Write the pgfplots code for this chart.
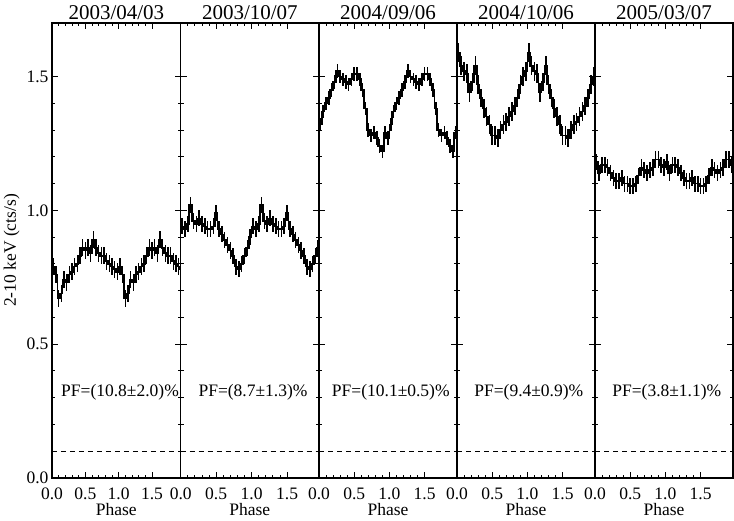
\documentclass[border=0pt]{standalone}
\usepackage{pgfplots}
\usepackage{pgfplotstable}
\pgfplotsset{compat=1.18}
\usepackage{fontspec}
\setmainfont{Liberation Serif}

% folded light curves, 25 bins per cycle, shown twice
\pgfplotstableread[row sep=\\]{
x y\\
0.02 0.79\\ 0.06 0.76\\ 0.10 0.67\\ 0.14 0.69\\ 0.18 0.74\\
0.22 0.73\\ 0.26 0.76\\ 0.30 0.77\\ 0.34 0.79\\ 0.38 0.80\\
0.42 0.83\\ 0.46 0.86\\ 0.50 0.85\\ 0.54 0.86\\ 0.58 0.84\\
0.62 0.89\\ 0.66 0.86\\ 0.70 0.84\\ 0.74 0.83\\ 0.78 0.83\\
0.82 0.81\\ 0.86 0.80\\ 0.90 0.79\\ 0.94 0.78\\ 0.98 0.77\\
1.02 0.79\\ 1.06 0.76\\ 1.10 0.67\\ 1.14 0.69\\ 1.18 0.74\\
1.22 0.73\\ 1.26 0.76\\ 1.30 0.77\\ 1.34 0.79\\ 1.38 0.80\\
1.42 0.83\\ 1.46 0.86\\ 1.50 0.85\\ 1.54 0.86\\ 1.58 0.84\\
1.62 0.89\\ 1.66 0.86\\ 1.70 0.84\\ 1.74 0.83\\ 1.78 0.83\\
1.82 0.81\\ 1.86 0.80\\ 1.90 0.79\\ 1.94 0.78\\ 1.98 0.77\\
}\obsA
\pgfplotstableread[row sep=\\]{
x y\\
0.02 0.94\\ 0.06 0.93\\ 0.10 0.95\\ 0.14 1.02\\ 0.18 0.96\\
0.22 0.95\\ 0.26 0.97\\ 0.30 0.95\\ 0.34 0.94\\ 0.38 0.93\\
0.42 0.93\\ 0.46 0.94\\ 0.50 0.99\\ 0.54 0.93\\ 0.58 0.91\\
0.62 0.89\\ 0.66 0.87\\ 0.70 0.85\\ 0.74 0.83\\ 0.78 0.79\\
0.82 0.78\\ 0.86 0.80\\ 0.90 0.83\\ 0.94 0.86\\ 0.98 0.90\\
1.02 0.94\\ 1.06 0.93\\ 1.10 0.95\\ 1.14 1.02\\ 1.18 0.96\\
1.22 0.95\\ 1.26 0.97\\ 1.30 0.95\\ 1.34 0.94\\ 1.38 0.93\\
1.42 0.93\\ 1.46 0.94\\ 1.50 0.99\\ 1.54 0.93\\ 1.58 0.91\\
1.62 0.89\\ 1.66 0.87\\ 1.70 0.85\\ 1.74 0.83\\ 1.78 0.79\\
1.82 0.78\\ 1.86 0.80\\ 1.90 0.83\\ 1.94 0.86\\ 1.98 0.90\\
}\obsB
\pgfplotstableread[row sep=\\]{
x y\\
0.02 1.32\\ 0.06 1.37\\ 0.10 1.40\\ 0.14 1.42\\ 0.18 1.45\\
0.22 1.48\\ 0.26 1.52\\ 0.30 1.50\\ 0.34 1.49\\ 0.38 1.48\\
0.42 1.47\\ 0.46 1.49\\ 0.50 1.51\\ 0.54 1.51\\ 0.58 1.49\\
0.62 1.45\\ 0.66 1.38\\ 0.70 1.30\\ 0.74 1.28\\ 0.78 1.29\\
0.82 1.27\\ 0.86 1.24\\ 0.90 1.22\\ 0.94 1.29\\ 0.98 1.27\\
1.02 1.32\\ 1.06 1.37\\ 1.10 1.40\\ 1.14 1.42\\ 1.18 1.45\\
1.22 1.48\\ 1.26 1.52\\ 1.30 1.50\\ 1.34 1.49\\ 1.38 1.48\\
1.42 1.47\\ 1.46 1.49\\ 1.50 1.51\\ 1.54 1.51\\ 1.58 1.49\\
1.62 1.45\\ 1.66 1.38\\ 1.70 1.30\\ 1.74 1.28\\ 1.78 1.29\\
1.82 1.27\\ 1.86 1.24\\ 1.90 1.22\\ 1.94 1.29\\ 1.98 1.27\\
}\obsC
\pgfplotstableread[row sep=\\]{
x y\\
0.02 1.59\\ 0.06 1.54\\ 0.10 1.52\\ 0.14 1.51\\ 0.18 1.44\\
0.22 1.48\\ 0.26 1.54\\ 0.30 1.47\\ 0.34 1.42\\ 0.38 1.38\\
0.42 1.35\\ 0.46 1.32\\ 0.50 1.28\\ 0.54 1.28\\ 0.58 1.27\\
0.62 1.30\\ 0.66 1.32\\ 0.70 1.33\\ 0.74 1.35\\ 0.78 1.37\\
0.82 1.39\\ 0.86 1.42\\ 0.90 1.47\\ 0.94 1.50\\ 0.98 1.52\\
1.02 1.59\\ 1.06 1.54\\ 1.10 1.52\\ 1.14 1.51\\ 1.18 1.44\\
1.22 1.48\\ 1.26 1.54\\ 1.30 1.47\\ 1.34 1.42\\ 1.38 1.38\\
1.42 1.35\\ 1.46 1.32\\ 1.50 1.28\\ 1.54 1.28\\ 1.58 1.27\\
1.62 1.30\\ 1.66 1.32\\ 1.70 1.33\\ 1.74 1.35\\ 1.78 1.37\\
1.82 1.39\\ 1.86 1.42\\ 1.90 1.47\\ 1.94 1.50\\ 1.98 1.52\\
}\obsD
\pgfplotstableread[row sep=\\]{
x y\\
0.02 1.18\\ 0.06 1.14\\ 0.10 1.17\\ 0.14 1.17\\ 0.18 1.16\\
0.22 1.14\\ 0.26 1.12\\ 0.30 1.11\\ 0.34 1.11\\ 0.38 1.12\\
0.42 1.10\\ 0.46 1.10\\ 0.50 1.09\\ 0.54 1.09\\ 0.58 1.10\\
0.62 1.13\\ 0.66 1.16\\ 0.70 1.15\\ 0.74 1.14\\ 0.78 1.15\\
0.82 1.16\\ 0.86 1.19\\ 0.90 1.19\\ 0.94 1.17\\ 0.98 1.16\\
1.02 1.18\\ 1.06 1.14\\ 1.10 1.17\\ 1.14 1.17\\ 1.18 1.16\\
1.22 1.14\\ 1.26 1.12\\ 1.30 1.11\\ 1.34 1.11\\ 1.38 1.12\\
1.42 1.10\\ 1.46 1.10\\ 1.50 1.09\\ 1.54 1.09\\ 1.58 1.10\\
1.62 1.13\\ 1.66 1.16\\ 1.70 1.15\\ 1.74 1.14\\ 1.78 1.15\\
1.82 1.16\\ 1.86 1.19\\ 1.90 1.19\\ 1.94 1.17\\ 1.98 1.16\\
}\obsE

\pgfplotsset{
panel/.style={
  scale only axis,height=455pt,anchor=south west,
  xmin=0,ymin=0,ymax=1.7,
  xtick={0,0.5,1,1.5},ytick={0,0.5,1,1.5},
  minor x tick num=4,minor y tick num=4,
  tick align=inside,major tick length=6pt,minor tick length=3pt,
  axis line style={line width=1.3pt},
  every tick/.style={black,line width=0.9pt},
  /pgf/number format/fixed,/pgf/number format/fixed zerofill,
  /pgf/number format/precision=1,/pgf/number format/assume math mode=true,
  tick label style={font=\fontsize{17.5}{18}\selectfont},
  xticklabel style={yshift=-6pt},
  label style={font=\fontsize{17.5}{18}\selectfont},
  xlabel style={yshift=3pt},
  title style={font=\fontsize{21}{22}\selectfont,yshift=-6pt},
  xlabel={Phase}},
pulse/.style={black,line width=1.6pt,const plot mark mid,no markers,
  error bars/.cd,y dir=both,y fixed=#1,error mark=none,
  error bar style={line width=1.6pt}},
base/.style={black,line width=1.2pt,dash pattern=on 5pt off 4pt}
}
\newcommand{\pf}[1]{\node[font=\fontsize{17.5}{18}\selectfont] at (axis cs:1.02,0.32) {#1};}

\begin{document}
\begin{tikzpicture}
\useasboundingbox (0pt,0pt) rectangle (734pt,521pt);
\begin{axis}[panel,at={(52pt,43pt)},width=128.7pt,xmax=1.93,
  title={2003/04/03},ylabel={2-10 keV (cts/s)}]
\addplot[pulse=0.032] table[x=x,y=y] {\obsA};
\addplot[base] coordinates {(0,0.1) (2,0.1)};
\pf{PF=(10.8±2.0)\%}
\end{axis}
\begin{axis}[panel,at={(180.7pt,43pt)},width=138.3pt,xmax=1.95,
  title={2003/10/07},yticklabels={}]
\addplot[pulse=0.03] table[x=x,y=y] {\obsB};
\addplot[base] coordinates {(0,0.1) (2,0.1)};
\pf{PF=(8.7±1.3)\%}
\end{axis}
\begin{axis}[panel,at={(319pt,43pt)},width=138pt,xmax=1.96,
  title={2004/09/06},yticklabels={}]
\addplot[pulse=0.025] table[x=x,y=y] {\obsC};
\addplot[base] coordinates {(0,0.1) (2,0.1)};
\pf{PF=(10.1±0.5)\%}
\end{axis}
\begin{axis}[panel,at={(457pt,43pt)},width=138pt,xmax=1.96,
  title={2004/10/06},yticklabels={}]
\addplot[pulse=0.035] table[x=x,y=y] {\obsD};
\addplot[base] coordinates {(0,0.1) (2,0.1)};
\pf{PF=(9.4±0.9)\%}
\end{axis}
\begin{axis}[panel,at={(595pt,43pt)},width=138pt,xmax=1.96,
  title={2005/03/07},yticklabels={}]
\addplot[pulse=0.03] table[x=x,y=y] {\obsE};
\addplot[base] coordinates {(0,0.1) (2,0.1)};
\pf{PF=(3.8±1.1)\%}
\end{axis}
\end{tikzpicture}
\end{document}
